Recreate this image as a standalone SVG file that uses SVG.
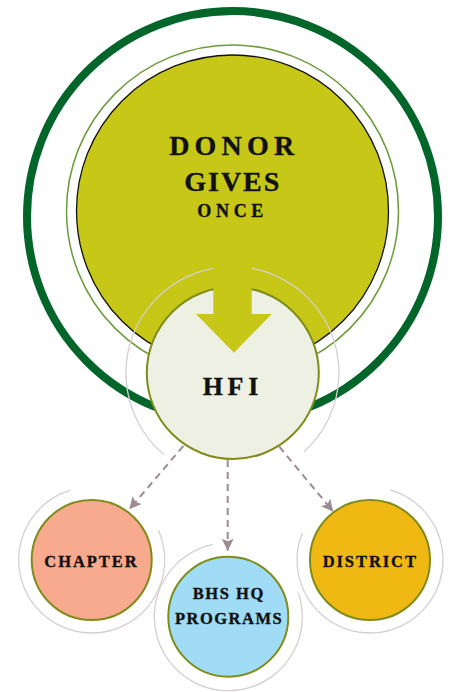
<svg xmlns="http://www.w3.org/2000/svg" width="465" height="692" viewBox="0 0 465 692">
<defs>
<style>
.lbl{font-family:"Liberation Serif","Times New Roman",serif;font-weight:bold;fill:#111;text-anchor:middle;stroke:#111;stroke-width:0.35}
.halo{fill:none;stroke:#d6cfcf;stroke-width:1.3}
.node{stroke:#7f8c1a;stroke-width:2}
.conn{fill:none;stroke:#9c8c92;stroke-width:2;stroke-dasharray:7 5}
</style>
<marker id="ah" markerUnits="userSpaceOnUse" markerWidth="13" markerHeight="13" refX="12" refY="6" orient="auto">
<path d="M0,0 L12,6 L0,12 L2.5,6 Z" fill="#9c8c92"/>
</marker>
</defs>
<rect width="465" height="692" fill="#ffffff"/>
<g id="donor">
<circle cx="232.5" cy="216.5" r="205.5" fill="none" stroke="#02662b" stroke-width="8"/>
<circle cx="232.5" cy="211" r="166" fill="none" stroke="#6c9b3a" stroke-width="1.5"/>
<circle cx="232.5" cy="211" r="156" fill="#c6c716" stroke="#111" stroke-width="1.3"/>
<text class="lbl" x="231.7" y="155" font-size="28" textLength="125" lengthAdjust="spacing">DONOR</text>
<text class="lbl" x="231.8" y="191" font-size="28" textLength="95" lengthAdjust="spacing">GIVES</text>
<text class="lbl" x="230.3" y="216.7" font-size="18" textLength="66" lengthAdjust="spacing">ONCE</text>
</g>
<g id="hfi">
<path class="halo" d="M164,454.6 A106.5,106.5 0 1 1 303.8,452.1"/>
<circle class="node" cx="232.8" cy="373" r="86" fill="#eef0e3" stroke-width="2.6"/>
<path d="M213.3,250 L251.7,250 L251.7,314 L271.7,314 L234,352.7 L196,314 L213.3,314 Z" fill="#c6c716"/>
<text class="lbl" x="230.5" y="395" font-size="26" textLength="55.6" lengthAdjust="spacing">HFI</text>
</g>
<g id="connectors">
<line class="conn" x1="183.3" y1="446" x2="129.3" y2="509.3" marker-end="url(#ah)"/>
<line class="conn" x1="227.7" y1="460" x2="227.7" y2="550.7" marker-end="url(#ah)"/>
<line class="conn" x1="279.3" y1="446.7" x2="333.3" y2="511.7" marker-end="url(#ah)"/>
</g>
<g id="chapter">
<path class="halo" d="M158.4,530.3 A73,73 0 1 1 70.4,490.2"/>
<circle class="node" cx="91.7" cy="560" r="60" fill="#f7aa8d"/>
<text class="lbl" x="90.5" y="566.7" font-size="16.5" textLength="92.3" lengthAdjust="spacing">CHAPTER</text>
</g>
<g id="bhs">
<path class="halo" d="M298.3,592.6 A74,74 0 1 1 212.9,544.3"/>
<circle class="node" cx="228.3" cy="616.7" r="60" fill="#a0dcf6"/>
<text class="lbl" x="228" y="599.3" font-size="16.5" textLength="70.6" lengthAdjust="spacing">BHS HQ</text>
<text class="lbl" x="228.3" y="624" font-size="16.5" textLength="106.7" lengthAdjust="spacing">PROGRAMS</text>
</g>
<g id="district">
<path class="halo" d="M390.1,489.8 A73,73 0 1 1 302.3,532.7"/>
<circle class="node" cx="370" cy="560" r="60" fill="#f0b812"/>
<text class="lbl" x="369.3" y="566.7" font-size="16.5" textLength="93.3" lengthAdjust="spacing">DISTRICT</text>
</g>
</svg>
